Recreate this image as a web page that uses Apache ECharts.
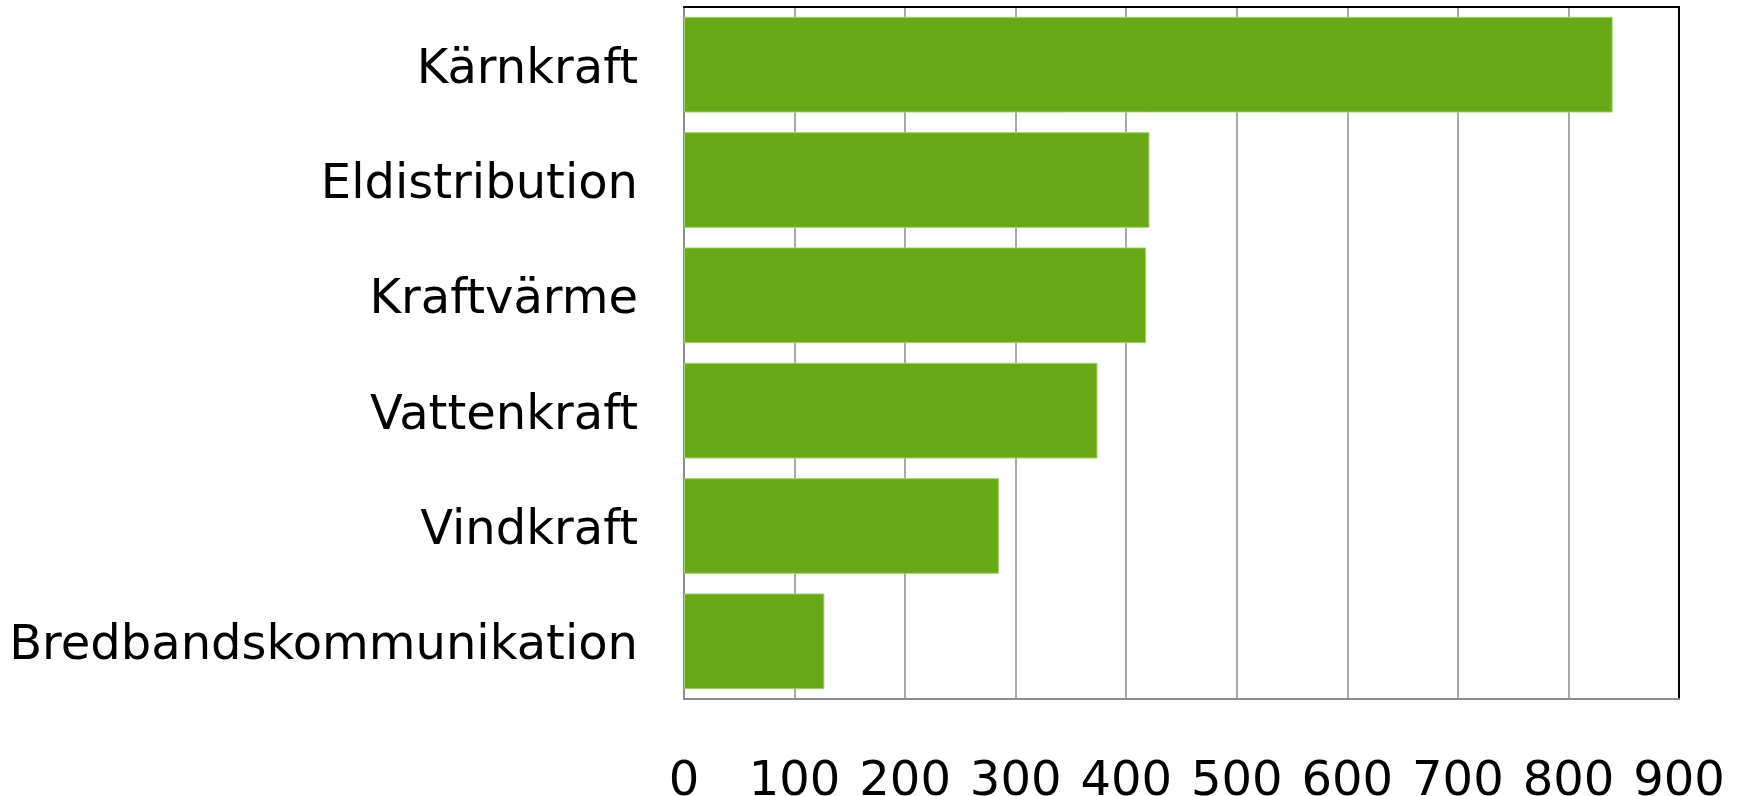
<!DOCTYPE html>
<html>
<head>
<meta charset="utf-8">
<script src="https://cdn.jsdelivr.net/npm/echarts@6/dist/echarts.min.js"></script>
<style>
  html, body { margin: 0; padding: 0; background: #fff; }
  #chart { width: 1738px; height: 796px; }
</style>
</head>
<body>
<div id="chart"></div>
<script>
// kategorier uppifrån och ned
var categories = ['Kärnkraft', 'Eldistribution', 'Kraftvärme', 'Vattenkraft', 'Vindkraft', 'Bredbandskommunikation'];
var values = [840, 421, 418, 374, 285, 127];
var xTicks = [0, 100, 200, 300, 400, 500, 600, 700, 800, 900];

var chart = echarts.init(document.getElementById('chart'));
var font = '"DejaVu Sans", Verdana, sans-serif';

chart.setOption({
    animation: false,
    grid: {
        left: 684,
        right: 59,
        top: 7,
        bottom: 97,
        outerBoundsMode: 'none',
        containLabel: false
    },
    xAxis: [
        {
            type: 'value',
            position: 'bottom',
            min: xTicks[0],
            max: xTicks[xTicks.length - 1],
            interval: 100,
            axisLine: { show: true, lineStyle: { color: '#8c8c8c', width: 2 } },
            axisTick: { show: false },
            splitLine: { show: true, lineStyle: { color: '#8c8c8c', width: 1.5 } },
            axisLabel: {
                margin: 60,
                color: '#000',
                fontSize: 48,
                fontFamily: font,
                showMaxLabel: true,
                showMinLabel: true
            }
        },
        {
            // svart ram upptill
            type: 'value',
            position: 'top',
            min: 0,
            max: 900,
            axisLine: { show: true, onZero: false, lineStyle: { color: '#000', width: 2 } },
            axisTick: { show: false },
            axisLabel: { show: false },
            splitLine: { show: false }
        }
    ],
    yAxis: [
        {
            type: 'category',
            data: categories,
            inverse: true,
            axisLine: { show: true, lineStyle: { color: '#8c8c8c', width: 2 } },
            axisTick: { show: false },
            axisLabel: {
                margin: 46,
                formatter: function (v) { return '{t|' + v + '}'; },
                rich: {
                    t: {
                        padding: [11, 0, 0, 0],
                        color: '#000',
                        fontSize: 48,
                        fontFamily: font
                    }
                }
            }
        },
        {
            // svart ram till höger
            type: 'category',
            data: categories,
            inverse: true,
            position: 'right',
            axisLine: { show: true, onZero: false, lineStyle: { color: '#000', width: 2 } },
            axisTick: { show: false },
            axisLabel: { show: false }
        }
    ],
    series: [
        {
            type: 'bar',
            data: values,
            barCategoryGap: '17%',
            itemStyle: {
                color: '#69a819',
                borderColor: '#a3d36c',
                borderWidth: 1
            }
        }
    ]
});
</script>
</body>
</html>
